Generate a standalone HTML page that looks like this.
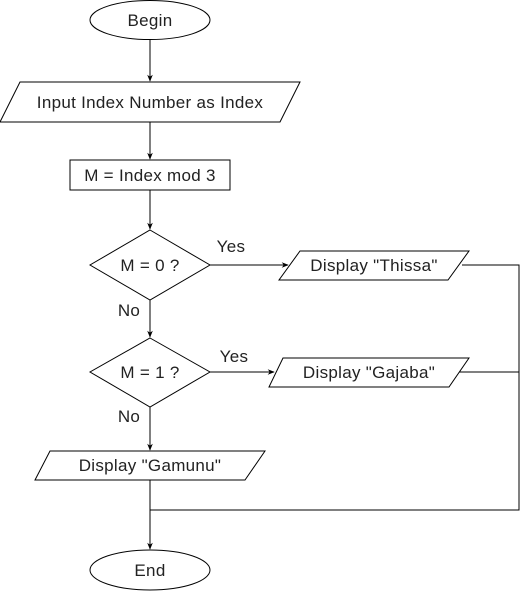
<!DOCTYPE html>
<html><head><meta charset="utf-8"><style>body{margin:0;background:#fff}svg{display:block}</style></head>
<body>
<svg width="528" height="591" viewBox="0 0 528 591" xmlns="http://www.w3.org/2000/svg" font-family="Liberation Sans, Arial, sans-serif" font-size="17" fill="none" stroke="#000">
<defs><marker id="a" viewBox="0 0 10 10" refX="9" refY="5" markerWidth="7" markerHeight="7" orient="auto"><path d="M0,1 L10,5 L0,9 L3,5 Z" fill="#000" stroke="none"/></marker></defs>
<ellipse cx="150" cy="20" rx="60" ry="19.5" fill="#fff"/>
<line x1="150" y1="40" x2="150" y2="81" marker-end="url(#a)"/>
<polygon points="20,82 300,82 280,122 0,122" fill="#fff"/>
<line x1="150" y1="122" x2="150" y2="159" marker-end="url(#a)"/>
<rect x="70" y="160" width="160" height="30" fill="#fff"/>
<line x1="150" y1="190" x2="150" y2="229" marker-end="url(#a)"/>
<polygon points="150,230 210,265 150,300 90,265" fill="#fff"/>
<line x1="210" y1="265" x2="288" y2="265" marker-end="url(#a)"/>
<polygon points="300,251 469,251 448,280 279,280" fill="#fff"/>
<polyline points="462,265 519,265 519,510 150,510"/>
<line x1="150" y1="300" x2="150" y2="337" marker-end="url(#a)"/>
<polygon points="150,338 210,372 150,407 90,372" fill="#fff"/>
<line x1="210" y1="372" x2="274" y2="372" marker-end="url(#a)"/>
<polygon points="283,358 469,358 449,387 269,387" fill="#fff"/>
<line x1="459" y1="372" x2="519" y2="372"/>
<line x1="150" y1="407" x2="150" y2="450" marker-end="url(#a)"/>
<polygon points="50,451 265,451 245,480 35,480" fill="#fff"/>
<line x1="150" y1="480" x2="150" y2="549" marker-end="url(#a)"/>
<ellipse cx="150" cy="570" rx="60" ry="20" fill="#fff"/>
<g fill="#222" stroke="none" text-anchor="middle" letter-spacing="0.3">
<text x="150" y="26">Begin</text>
<text x="150" y="108">Input Index Number as Index</text>
<text x="150" y="181">M = Index mod 3</text>
<text x="150" y="271">M = 0 ?</text>
<text x="374" y="271">Display "Thissa"</text>
<text x="150" y="378">M = 1 ?</text>
<text x="369" y="378">Display "Gajaba"</text>
<text x="150" y="471">Display "Gamunu"</text>
<text x="150" y="576">End</text>
<text x="231" y="252">Yes</text>
<text x="234" y="362">Yes</text>
<text x="129" y="316">No</text>
<text x="129" y="422">No</text>
</g>
</svg>
</body></html>
